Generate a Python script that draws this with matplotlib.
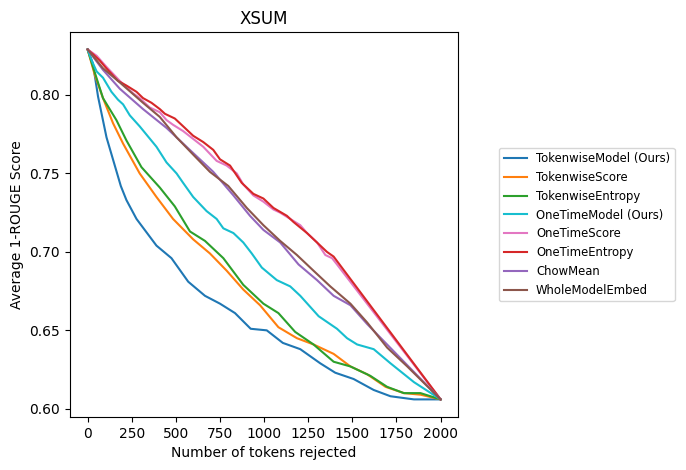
import numpy as np
import matplotlib
matplotlib.use("Agg")
import matplotlib.pyplot as plt

# 读取自图像的曲线数据 (tokens rejected, average 1-ROUGE)
tw_model_x = [0, 30, 59, 107, 188, 220, 277, 390, 475, 570, 665, 750, 835, 924,
              1015, 1106, 1205, 1318, 1403, 1507, 1621, 1716, 1849, 2000]
tw_model_y = [0.829, 0.820, 0.799, 0.773, 0.742, 0.733, 0.721, 0.704, 0.696,
              0.681, 0.672, 0.667, 0.661, 0.651, 0.650, 0.642, 0.638, 0.629,
              0.623, 0.619, 0.612, 0.608, 0.606, 0.606]

tw_score_x = [0, 40, 87, 144, 201, 295, 390, 484, 598, 693, 788, 882, 977, 1081,
              1186, 1280, 1394, 1489, 1584, 1688, 1792, 1886, 2000]
tw_score_y = [0.829, 0.813, 0.798, 0.782, 0.769, 0.750, 0.735, 0.721, 0.708,
              0.699, 0.688, 0.676, 0.666, 0.652, 0.645, 0.641, 0.635, 0.627,
              0.622, 0.614, 0.610, 0.609, 0.606]

tw_entropy_x = [0, 30, 87, 163, 220, 305, 409, 494, 580, 665, 769, 882, 996, 1081,
                1176, 1280, 1394, 1489, 1602, 1697, 1792, 1886, 2000]
tw_entropy_y = [0.829, 0.818, 0.798, 0.784, 0.771, 0.754, 0.741, 0.729, 0.713,
                0.707, 0.696, 0.679, 0.667, 0.661, 0.649, 0.641, 0.630, 0.627,
                0.621, 0.614, 0.610, 0.610, 0.606]

ot_model_x = [0, 23, 51, 87, 135, 172, 201, 239, 295, 390, 447, 504, 541, 598, 674,
              731, 769, 826, 882, 930, 987, 1072, 1148, 1205, 1261, 1309, 1413,
              1470, 1527, 1621, 1716, 1849, 2000]
ot_model_y = [0.829, 0.822, 0.815, 0.811, 0.802, 0.797, 0.794, 0.787, 0.780,
              0.767, 0.757, 0.750, 0.744, 0.735, 0.726, 0.721, 0.715, 0.712,
              0.706, 0.699, 0.690, 0.682, 0.678, 0.672, 0.665, 0.659, 0.651,
              0.645, 0.641, 0.638, 0.629, 0.617, 0.606]

ot_score_x = [0, 51, 106, 182, 258, 295, 352, 409, 447, 484, 541, 598, 655, 731,
              788, 845, 882, 939, 996, 1053, 1091, 1148, 1205, 1243, 1300, 1347,
              1385, 1413, 2000]
ot_score_y = [0.829, 0.825, 0.818, 0.809, 0.801, 0.798, 0.792, 0.789, 0.784,
              0.781, 0.777, 0.772, 0.767, 0.758, 0.755, 0.750, 0.743, 0.736,
              0.732, 0.727, 0.725, 0.721, 0.717, 0.712, 0.706, 0.698, 0.696,
              0.692, 0.606]

ot_entropy_x = [0, 30, 68, 106, 172, 220, 277, 314, 362, 409, 438, 494, 551, 598,
                655, 712, 750, 807, 873, 939, 996, 1053, 1129, 1167, 1243, 1309,
                1356, 1394, 2000]
ot_entropy_y = [0.829, 0.826, 0.822, 0.817, 0.809, 0.806, 0.802, 0.798, 0.795,
                0.791, 0.788, 0.785, 0.779, 0.774, 0.770, 0.765, 0.759, 0.755,
                0.744, 0.737, 0.734, 0.728, 0.723, 0.719, 0.712, 0.705, 0.700,
                0.697, 0.606]

chow_x = [0, 87, 182, 314, 447, 598, 712, 826, 920, 996, 1091, 1195, 1300, 1394,
          1489, 1584, 2000]
chow_y = [0.829, 0.816, 0.804, 0.791, 0.779, 0.763, 0.751, 0.736, 0.723, 0.714,
          0.706, 0.692, 0.682, 0.672, 0.666, 0.654, 0.606]

embed_x = [0, 87, 182, 314, 409, 504, 598, 693, 797, 902, 996, 1091, 1186, 1280,
           1375, 1489, 1584, 1697, 1811, 2000]
embed_y = [0.829, 0.817, 0.808, 0.795, 0.786, 0.773, 0.762, 0.751, 0.742, 0.728,
           0.717, 0.707, 0.698, 0.688, 0.678, 0.667, 0.655, 0.639, 0.627, 0.606]

series = [
    ("TokenwiseModel (Ours)", tw_model_x, tw_model_y, "tab:blue"),
    ("TokenwiseScore", tw_score_x, tw_score_y, "tab:orange"),
    ("TokenwiseEntropy", tw_entropy_x, tw_entropy_y, "tab:green"),
    ("OneTimeModel (Ours)", ot_model_x, ot_model_y, "tab:cyan"),
    ("OneTimeScore", ot_score_x, ot_score_y, "tab:pink"),
    ("OneTimeEntropy", ot_entropy_x, ot_entropy_y, "tab:red"),
    ("ChowMean", chow_x, chow_y, "tab:purple"),
    ("WholeModelEmbed", embed_x, embed_y, "tab:brown"),
]

fig = plt.figure(figsize=(6.86, 4.7), dpi=100)
ax = fig.add_axes([0.102, 0.113, 0.566, 0.819])

for name, xs, ys, col in series:
    ax.plot(xs, ys, color=col, label=name)

ax.set_xticks(np.arange(0, 2001, 250))
ax.set_xlabel("Number of tokens rejected")
ax.set_ylabel("Average 1-ROUGE Score")
ax.set_title("XSUM")
ax.legend(loc="center left", bbox_to_anchor=(1.09, 0.5), fontsize="small")

fig.savefig("out.png", dpi=100)
